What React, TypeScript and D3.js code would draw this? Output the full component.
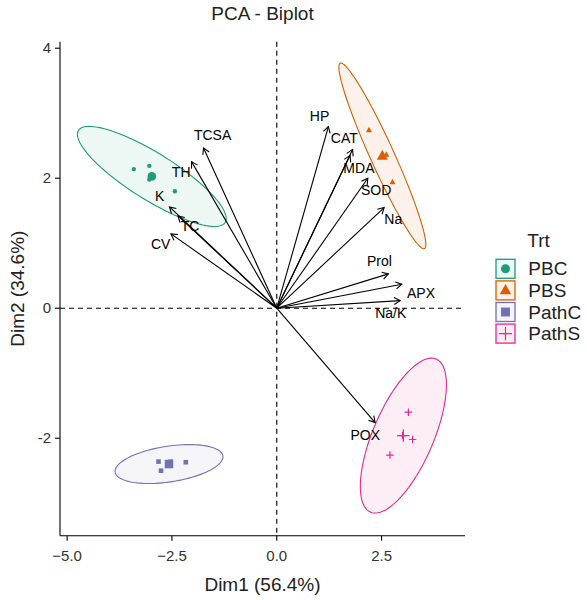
import React from 'react';
import * as d3 from 'd3';

// ---- data ----
const groups = ['PBC', 'PBS', 'PathC', 'PathS'];
const groupColors = ['#1B9E77', '#D95F02', '#7570B3', '#E7298A'];
const groupShapes = ['circle', 'triangle', 'square', 'plus'];

const pbcX = [-3.41, -3.04, -2.43, -3.04];
const pbcY = [2.14, 2.19, 1.80, 1.98];
const pbsX = [2.20, 2.76, 2.613, 2.503];
const pbsY = [2.74, 1.94, 2.362, 2.331];
const pathCX = [-2.82, -2.17, -2.76, -2.53];
const pathCY = [-2.36, -2.37, -2.50, -2.36];
const pathSX = [3.14, 3.24, 2.70, 3.0];
const pathSY = [-1.60, -2.02, -2.26, -1.96];
const groupXs = [pbcX, pbsX, pathCX, pathSX];
const groupYs = [pbcY, pbsY, pathCY, pathSY];

const varNames = ['TCSA', 'TH', 'K', 'TC', 'CV', 'HP', 'CAT', 'MDA', 'SOD', 'Na', 'Prol', 'APX', 'Na/K', 'POX'];
const varX = [-1.747, -2.033, -2.558, -2.356, -2.523, 1.232, 1.809, 1.749, 2.172, 2.561, 2.663, 2.983, 2.943, 2.346];
const varY = [2.466, 2.255, 1.558, 1.42, 1.143, 2.794, 2.443, 2.351, 2.0, 1.548, 0.528, 0.369, 0.117, -1.76];
const labelX = [-1.53, -2.28, -2.79, -2.07, -2.77, 1.02, 1.61, 1.96, 2.37, 2.78, 2.45, 3.44, 2.72, 2.11];
const labelY = [2.67, 2.09, 1.73, 1.26, 0.98, 2.96, 2.62, 2.15, 1.82, 1.37, 0.72, 0.23, -0.08, -1.95];

const xTicks = [-5, -2.5, 0, 2.5];
const yTicks = [-2, 0, 2, 4];
const xDomain = [-5.17, 4.49];
const yDomain = [-3.5, 4.1];

const title = 'PCA - Biplot';
const xTitle = 'Dim1 (56.4%)';
const yTitle = 'Dim2 (34.6%)';
const legendTitle = 'Trt';
const ellipseLevel = 0.95;

// ---- layout ----
const W = 587, H = 600;
const left = 60, right = 465, top = 41.7, bottom = 535.7;
const FONT = '"Liberation Sans", Arial, Helvetica, sans-serif';

const x = d3.scaleLinear().domain(xDomain).range([left, right]);
const y = d3.scaleLinear().domain(yDomain).range([bottom, top]);

function ellipsePoints(xs: number[], ys: number[]) {
  const n = xs.length;
  const mx = d3.mean(xs)!, my = d3.mean(ys)!;
  let sxx = 0, syy = 0, sxy = 0;
  for (let i = 0; i < n; i++) {
    sxx += (xs[i] - mx) ** 2;
    syy += (ys[i] - my) ** 2;
    sxy += (xs[i] - mx) * (ys[i] - my);
  }
  sxx /= n - 1; syy /= n - 1; sxy /= n - 1;
  const d2 = n - 1;
  const qf = (d2 / 2) * (Math.pow(1 - ellipseLevel, -2 / d2) - 1);
  const radius = Math.sqrt(2 * qf);
  const a = Math.sqrt(sxx);
  const b = sxy / a;
  const c = Math.sqrt(Math.max(syy - b * b, 0));
  const pts: [number, number][] = [];
  const seg = 100;
  for (let k = 0; k <= seg; k++) {
    const t = (k / seg) * 2 * Math.PI;
    const ux = Math.cos(t), uy = Math.sin(t);
    const ex = mx + radius * (ux * a);
    const ey = my + radius * (ux * b + uy * c);
    pts.push([x(ex), y(ey)]);
  }
  return pts;
}

function Shape({ shape, cx, cy, s, color }: { shape: string; cx: number; cy: number; s: number; color: string }) {
  if (shape === 'circle') return <circle cx={cx} cy={cy} r={s / 2} fill={color} />;
  if (shape === 'square') return <rect x={cx - s / 2} y={cy - s / 2} width={s} height={s} fill={color} />;
  if (shape === 'triangle') {
    const h = s * 0.9;
    return <path d={`M${cx},${cy - h * 0.62}L${cx + s / 2},${cy + h * 0.38}L${cx - s / 2},${cy + h * 0.38}Z`} fill={color} />;
  }
  return (
    <path d={`M${cx - s / 2},${cy}H${cx + s / 2}M${cx},${cy - s / 2}V${cy + s / 2}`} stroke={color} strokeWidth={1.2} fill="none" />
  );
}

const smallSize = [4.4, 6, 4.6, 7.5];
const bigSize = [8.6, 11, 8.5, 12.5];

export default function App() {
  const line = d3.line();
  const x0 = x(0), y0 = y(0);
  return (
    <svg width={W} height={H} style={{ position: 'absolute', left: 0, top: 0, background: '#fff' }} fontFamily={FONT}>
      <rect width={W} height={H} fill="#fff" />
      {/* title */}
      <text x={(left + right) / 2} y={20} textAnchor="middle" fontSize={19} fill="#222">{title}</text>

      {/* reference dashed lines */}
      <line x1={x0} x2={x0} y1={top} y2={bottom} stroke="#000" strokeWidth={1.1} strokeDasharray="5,4" />
      <line x1={left} x2={right} y1={y0} y2={y0} stroke="#000" strokeWidth={1.1} strokeDasharray="5,4" />

      {/* ellipses */}
      {groups.map((g, i) => (
        <path key={g} d={line(ellipsePoints(groupXs[i], groupYs[i]))!} fill={groupColors[i]} fillOpacity={0.08}
          stroke={groupColors[i]} strokeWidth={1.1} />
      ))}

      {/* points */}
      {groups.map((g, i) => (
        <g key={g}>
          {groupXs[i].map((v, j) => (
            <Shape key={j} shape={groupShapes[i]} cx={x(v)} cy={y(groupYs[i][j])} s={smallSize[i]} color={groupColors[i]} />
          ))}
          <Shape shape={groupShapes[i]} cx={x(d3.mean(groupXs[i])!)} cy={y(d3.mean(groupYs[i])!)} s={bigSize[i]} color={groupColors[i]} />
        </g>
      ))}

      {/* variable arrows */}
      {varNames.map((name, i) => {
        const tx = x(varX[i]), ty = y(varY[i]);
        const ang = Math.atan2(ty - y0, tx - x0);
        const L = 7, a = Math.PI / 6;
        const p1 = [tx - L * Math.cos(ang - a), ty - L * Math.sin(ang - a)];
        const p2 = [tx - L * Math.cos(ang + a), ty - L * Math.sin(ang + a)];
        return (
          <g key={name}>
            <line x1={x0} y1={y0} x2={tx} y2={ty} stroke="#000" strokeWidth={1.1} />
            <path d={`M${p1[0]},${p1[1]}L${tx},${ty}L${p2[0]},${p2[1]}`} stroke="#000" strokeWidth={1.1} fill="none" />
          </g>
        );
      })}
      {varNames.map((name, i) => (
        <text key={name} x={x(labelX[i])} y={y(labelY[i])} dy="0.35em" textAnchor="middle" fontSize={14} fill="#000">{name}</text>
      ))}

      {/* axes */}
      <line x1={left} x2={right} y1={bottom} y2={bottom} stroke="#000" strokeWidth={1.1} />
      <line x1={left} x2={left} y1={top} y2={bottom} stroke="#000" strokeWidth={1.1} />
      {xTicks.map(t => (
        <g key={t}>
          <line x1={x(t)} x2={x(t)} y1={bottom} y2={bottom + 5} stroke="#000" strokeWidth={1.1} />
          <text x={x(t)} y={bottom + 25.5} textAnchor="middle" fontSize={15} fill="#333">{d3.format('.1f')(t)}</text>
        </g>
      ))}
      {yTicks.map(t => (
        <g key={t}>
          <line x1={left - 5} x2={left} y1={y(t)} y2={y(t)} stroke="#000" strokeWidth={1.1} />
          <text x={left - 9} y={y(t)} dy="0.35em" textAnchor="end" fontSize={15} fill="#333">{t}</text>
        </g>
      ))}
      <text x={(left + right) / 2} y={591} textAnchor="middle" fontSize={19} fill="#222">{xTitle}</text>
      <text transform={`translate(23.5,${(top + bottom) / 2}) rotate(-90)`} textAnchor="middle" fontSize={19} fill="#222">{yTitle}</text>

      {/* legend */}
      <text x={527.3} y={246.7} fontSize={19} fill="#222">{legendTitle}</text>
      {groups.map((g, i) => {
        const cy = 268.8 + i * 21.6;
        return (
          <g key={g}>
            <rect x={496} y={cy - 9.5} width={19} height={19} fill={groupColors[i]} fillOpacity={0.08} stroke={groupColors[i]} strokeWidth={1.3} />
            <Shape shape={groupShapes[i]} cx={505.5} cy={cy} s={bigSize[i] * 1.05} color={groupColors[i]} />
            <text x={528.3} y={cy} dy="0.35em" fontSize={19} fill="#222">{g}</text>
          </g>
        );
      })}
    </svg>
  );
}
